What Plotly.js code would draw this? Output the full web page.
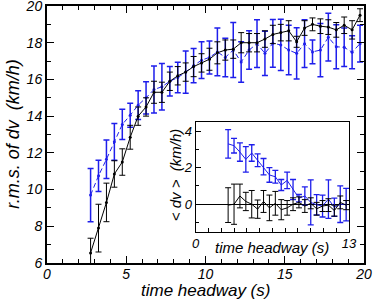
<!DOCTYPE html>
<html>
<head>
<meta charset="utf-8">
<script src="https://cdn.plot.ly/plotly-3.0.1.min.js"></script>
<style>html,body{margin:0;padding:0;background:#fff;}#chart{width:374px;height:301px;}</style>
</head>
<body>
<div id="chart"></div>
<script>
// Main panel: time headway (s)
const headway = [2.75,3.25,3.75,4.25,4.75,5.25,5.75,6.25,6.75,7.25,7.75,8.25,8.75,9.25,9.75,10.25,10.75,11.25,11.75,12.25,12.75,13.25,13.75,14.25,14.75,15.25,15.75,16.25,16.75,17.25,17.75,18.25,18.75,19.25,19.75];
const rmsBlack = [6.55,7.9,9.3,10.85,11.5,12.85,14.0,14.5,15.3,15.3,15.9,16.2,16.4,16.7,16.9,17.1,17.45,17.6,17.65,18.0,18.0,18.0,18.2,18.45,18.55,18.65,18.05,18.8,19.0,18.9,18.85,18.7,18.95,18.7,19.5];
const rmsBlackErr = [0.8,1.3,1.05,0.72,0.72,0.65,0.5,0.5,0.6,0.55,0.5,0.5,0.5,0.55,0.5,0.6,0.6,0.55,0.5,0.55,0.5,0.5,0.45,0.5,0.45,0.55,0.3,0.4,0.35,0.4,0.4,0.4,0.45,0.5,0.35];
const rmsBlue = [9.7,10.75,11.65,12.6,13.55,14.05,14.6,15.0,15.45,15.6,15.9,16.1,16.4,16.75,17.05,17.2,17.5,17.2,17.6,16.95,17.6,17.95,17.42,17.97,17.88,17.6,17.42,17.95,17.5,17.6,18.3,17.78,17.75,17.48,17.95];
const rmsBlueErr = [1.45,0.85,1.05,1.0,0.82,0.65,0.78,0.88,1.28,1.27,0.8,0.83,1.15,0.93,1.0,0.9,1.3,1.05,1.5,1.1,1.05,1.3,1.2,1.3,1.4,1.35,1.4,1.3,0.65,1.45,1.3,1.2,1.05,0.9,1.0];

// Inset: <dv> (km/h)
const insetHeadway = [2.75,3.25,3.75,4.25,4.75,5.25,5.75,6.25,6.75,7.25,7.75,8.25,8.75,9.25,9.75,10.25,10.75,11.25,11.75,12.25,12.75];
const dvBlack = [-0.05,0.0,0.45,0.15,0.0,-0.27,0.15,-0.2,0.05,-0.3,-0.2,0.0,0.1,-0.1,0.05,-0.25,-0.1,-0.05,-0.35,0.1,-0.05];
const dvBlackErr = [0.95,1.1,0.65,0.5,0.75,0.5,0.6,0.7,0.65,0.55,0.4,0.35,0.3,0.35,0.3,0.35,0.3,0.35,0.3,0.35,0.25];
const dvBlue = [3.3,3.2,2.85,2.45,2.8,2.4,2.05,1.6,1.5,1.05,1.3,0.8,0.33,0.45,0.1,-0.03,-0.1,0.28,-0.17,0.0,-0.02];
const dvBlueErr = [0.78,0.4,0.5,0.7,0.45,0.35,0.45,0.4,0.35,0.3,0.45,0.55,0.2,0.5,1.23,0.55,0.6,1.05,0.5,1.0,0.89];

const mainXTicks = [0,5,10,15,20];
const mainYTicks = [6,8,10,12,14,16,18,20];
const insetXTicks = [0,13];
const insetYTicks = [0,2,4];

const BLUE = 'rgb(30,30,235)';
const FONT = 'Liberation Sans, Arial, Helvetica, sans-serif';

const traces = [
  {x: headway, y: rmsBlue, type:'scatter', mode:'lines+markers',
   line:{color:BLUE, width:1, dash:'5px,3px'}, marker:{color:BLUE, size:3},
   error_y:{type:'data', array:rmsBlueErr, visible:true, color:BLUE, thickness:1.5, width:3},
   xaxis:'x', yaxis:'y', hoverinfo:'skip'},
  {x: headway, y: rmsBlack, type:'scatter', mode:'lines+markers',
   line:{color:'black', width:1}, marker:{color:'black', size:3},
   error_y:{type:'data', array:rmsBlackErr, visible:true, color:'black', thickness:1, width:3},
   xaxis:'x', yaxis:'y', hoverinfo:'skip'},
  {x: insetHeadway, y: dvBlue, type:'scatter', mode:'lines',
   line:{color:BLUE, width:1},
   error_y:{type:'data', array:dvBlueErr, visible:true, color:BLUE, thickness:1.3, width:3},
   xaxis:'x2', yaxis:'y2', hoverinfo:'skip'},
  {x: insetHeadway, y: dvBlack, type:'scatter', mode:'lines',
   line:{color:'black', width:1},
   error_y:{type:'data', array:dvBlackErr, visible:true, color:'black', thickness:1, width:3},
   xaxis:'x2', yaxis:'y2', hoverinfo:'skip'}
];

const tickFont = {family:FONT, size:14, color:'black', style:'italic'};
const insetTickFont = {family:FONT, size:13, color:'black', style:'italic'};

const layout = {
  width:374, height:301,
  margin:{l:47, r:10, t:6, b:38},
  paper_bgcolor:'white', plot_bgcolor:'white',
  showlegend:false,
  xaxis:{domain:[0,1], range:[0,20], tickvals:mainXTicks, ticktext:mainXTicks.map(String),
    ticks:'inside', ticklen:7, tickwidth:1, tickcolor:'black', ticklabeloverflow:'allow', ticklabelstandoff:-3,
    minor:{dtick:1, tick0:0, ticks:'inside', ticklen:4, tickwidth:1, tickcolor:'black', showgrid:false},
    showline:true, linewidth:2, linecolor:'black', mirror:'allticks',
    showgrid:false, zeroline:false, tickfont:tickFont, fixedrange:true},
  yaxis:{domain:[0,1], range:[6,20], tickvals:mainYTicks, ticktext:mainYTicks.map(String),
    ticks:'inside', ticklen:7, tickwidth:1, tickcolor:'black', ticklabeloverflow:'allow',
    minor:{dtick:1, tick0:0, ticks:'inside', ticklen:4, tickwidth:1, tickcolor:'black', showgrid:false},
    showline:true, linewidth:2, linecolor:'black', mirror:'allticks',
    showgrid:false, zeroline:false, tickfont:tickFont, fixedrange:true},
  xaxis2:{domain:[0.469,0.953], anchor:'y2', range:[0,13], tickvals:insetXTicks, ticktext:insetXTicks.map(String),
    ticks:'', ticklabeloverflow:'allow',
    minor:{dtick:13/12, tick0:0, ticks:'inside', ticklen:4, tickwidth:1, tickcolor:'black', showgrid:false},
    showline:true, linewidth:1, linecolor:'black', mirror:true,
    showgrid:false, zeroline:false, tickfont:insetTickFont, fixedrange:true},
  yaxis2:{domain:[0.122,0.549], anchor:'x2', range:[-1.5,4.5], tickvals:insetYTicks, ticktext:insetYTicks.map(String),
    ticks:'inside', ticklen:5, tickwidth:1, tickcolor:'black', ticklabeloverflow:'allow',
    minor:{dtick:1, tick0:1, ticks:'inside', ticklen:3, tickwidth:1, tickcolor:'black', showgrid:false},
    showline:true, linewidth:1, linecolor:'black', mirror:true,
    showgrid:false, zeroline:true, zerolinecolor:'black', zerolinewidth:1,
    tickfont:insetTickFont, fixedrange:true},
  annotations:[
    {text:'time headway (s)', xref:'paper', yref:'paper', x:0.5, y:-0.108, xanchor:'center', yanchor:'middle', showarrow:false,
     font:{family:FONT, size:17, color:'black', style:'italic'}},
    {text:'r.m.s. of dv\u00a0\u00a0(km/h)', xref:'paper', yref:'paper', x:-0.110, y:0.5, xanchor:'center', yanchor:'middle', showarrow:false, textangle:-90,
     font:{family:FONT, size:18, color:'black', style:'italic'}},
    {text:'time headway (s)', xref:'paper', yref:'paper', x:0.711, y:0.0584, xanchor:'center', yanchor:'middle', showarrow:false,
     font:{family:FONT, size:15, color:'black', style:'italic'}},
    {text:'&lt; dv &gt;\u00a0\u00a0(km/h)', xref:'paper', yref:'paper', x:0.404, y:0.342, xanchor:'center', yanchor:'middle', showarrow:false, textangle:-90,
     font:{family:FONT, size:15, color:'black', style:'italic'}}
  ]
};

Plotly.newPlot('chart', traces, layout, {staticPlot:true, displayModeBar:false});
</script>
</body>
</html>
